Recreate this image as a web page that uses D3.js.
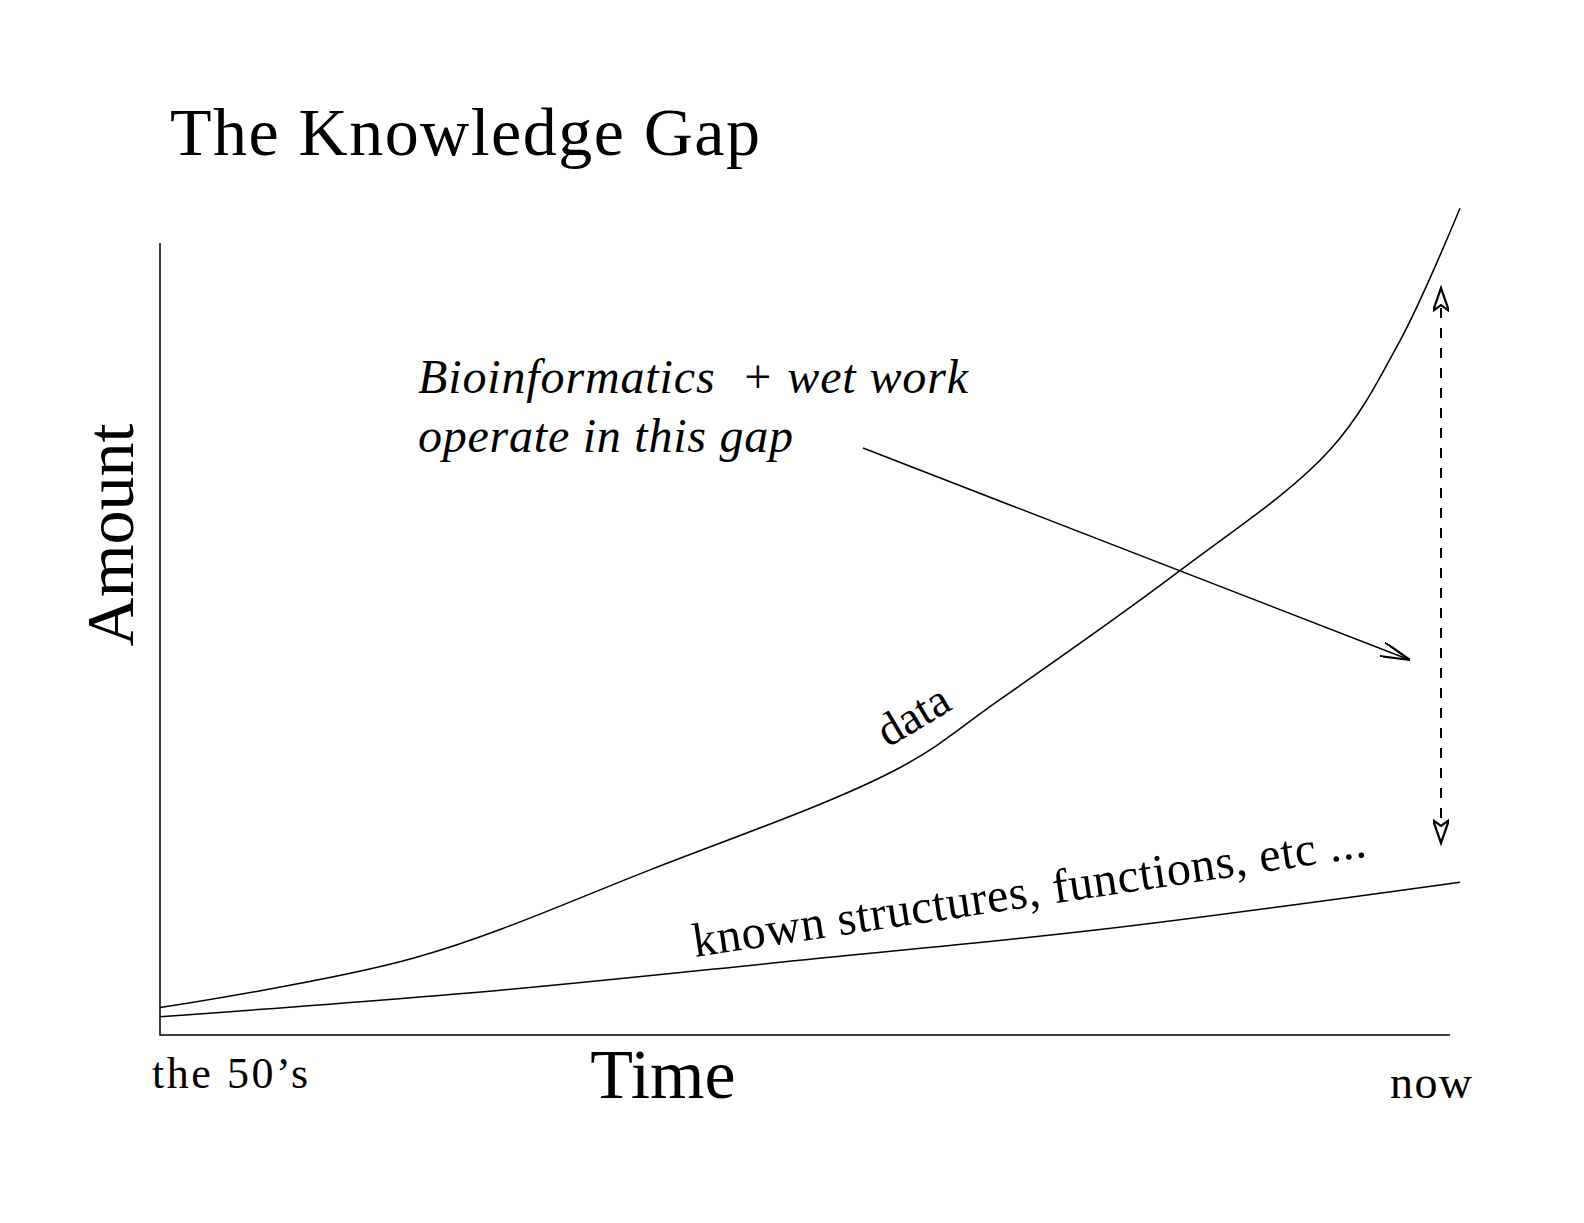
<!DOCTYPE html>
<html><head><meta charset="utf-8">
<script src="https://cdn.jsdelivr.net/npm/d3@7"></script>
<style>body{margin:0;background:#fff}text{font-family:"Liberation Serif","DejaVu Serif",serif;fill:#000}</style>
</head><body><div id="chart"></div>
<script>
// Values (time 0..100, amount 0..100)
const dataTime = [0, 19.6, 37.7, 56.9, 64.6, 78.5, 90, 95.4, 100];
const dataAmount = [3.3, 9.3, 19.9, 32.2, 40.4, 56, 70.5, 83.7, 99.6];
const knownTime = [0, 26.2, 49.2, 72.3, 100];
const knownAmount = [2.2, 5.4, 9.0, 12.7, 18.4];
const xLabels = ["the 50\u2019s", "now"];

const W = 1584, H = 1223;
const svg = d3.select("#chart").append("svg").attr("width", W).attr("height", H);
const x = d3.scaleLinear().domain([0, 100]).range([160, 1460]);
const y = d3.scaleLinear().domain([0, 100]).range([1035, 205]);

svg.append("defs").append("marker").attr("id", "ah").attr("viewBox", "0 0 20 10")
  .attr("refX", 20).attr("refY", 5).attr("markerWidth", 30).attr("markerHeight", 15)
  .attr("markerUnits", "userSpaceOnUse").attr("orient", "auto")
  .append("path").attr("d", "M0,0 L20,5 L0,10").attr("fill", "none").attr("stroke", "#000").attr("stroke-width", 1.5);
svg.select("defs").append("marker").attr("id", "oh").attr("viewBox", "0 0 20 14")
  .attr("refX", 20).attr("refY", 7).attr("markerWidth", 28).attr("markerHeight", 16)
  .attr("markerUnits", "userSpaceOnUse").attr("orient", "auto-start-reverse")
  .append("path").attr("d", "M0,0 L20,7 L0,14 L5,7 Z").attr("fill", "#fff").attr("stroke", "#000").attr("stroke-width", 2);

// axes
svg.append("path").attr("d", `M160,243 L160,1035 L1450,1035`).attr("fill", "none").attr("stroke", "#000").attr("stroke-width", 1.5);

const line = d3.line().x(d => x(d[0])).y(d => y(d[1])).curve(d3.curveCatmullRom);
svg.append("path").attr("d", line(d3.zip(dataTime, dataAmount))).attr("fill", "none").attr("stroke", "#000").attr("stroke-width", 1.5);
svg.append("path").attr("d", line(d3.zip(knownTime, knownAmount))).attr("fill", "none").attr("stroke", "#000").attr("stroke-width", 1.5);

// gap indicator
svg.append("line").attr("x1", 1441).attr("x2", 1441).attr("y1", 288).attr("y2", 843)
  .attr("stroke", "#000").attr("stroke-width", 2).attr("stroke-dasharray", "10,10")
  .attr("marker-start", "url(#oh)").attr("marker-end", "url(#oh)");
svg.append("line").attr("x1", 863).attr("y1", 448).attr("x2", 1410).attr("y2", 660)
  .attr("stroke", "#000").attr("stroke-width", 1.5).attr("marker-end", "url(#ah)");

// texts
svg.append("text").attr("x", 170).attr("y", 155).attr("font-size", 68).attr("textLength", 590).text("The Knowledge Gap");
svg.append("text").attr("transform", "translate(133,535) rotate(-90)").attr("text-anchor", "middle").attr("font-size", 68).text("Amount");
svg.append("text").attr("x", 663).attr("y", 1098).attr("text-anchor", "middle").attr("font-size", 70).text("Time");
svg.append("text").attr("x", 152).attr("y", 1088).attr("font-size", 44).attr("textLength", 156).text(xLabels[0]);
svg.append("text").attr("x", 1390).attr("y", 1098).attr("font-size", 46).attr("textLength", 82).text(xLabels[1]);
svg.append("text").attr("x", 418).attr("y", 393).attr("font-size", 48).attr("font-style", "italic").attr("xml:space", "preserve").attr("textLength", 550).text("Bioinformatics  + wet work");
svg.append("text").attr("x", 418).attr("y", 452).attr("font-size", 48).attr("font-style", "italic").attr("textLength", 375).text("operate in this gap");
svg.append("text").attr("transform", "translate(888,748) rotate(-31)").attr("font-size", 46).text("data");
svg.append("text").attr("transform", "translate(695,957) rotate(-8.5)").attr("font-size", 48).attr("textLength", 680).text("known structures, functions, etc ...");
</script></body></html>
